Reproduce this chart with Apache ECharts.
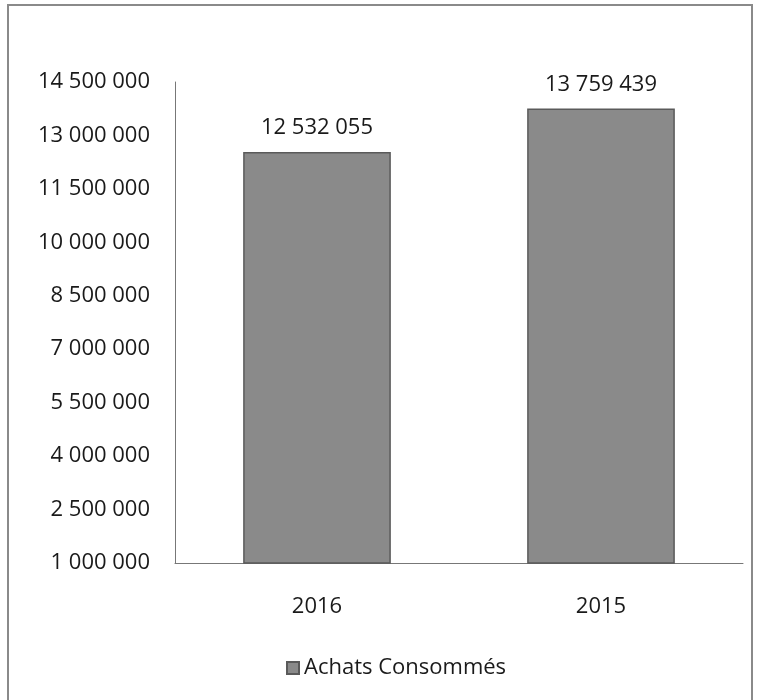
<!DOCTYPE html>
<html><head><meta charset="utf-8">
<script src="https://cdn.jsdelivr.net/npm/echarts@6/dist/echarts.min.js"></script>
<style>html,body{margin:0;padding:0;background:#fff}#c{width:759px;height:700px}</style>
</head><body><div id="c"></div>
<script>
const categories = ['2016', '2015'];
const achatsConsommes = [12532055, 13759439];
const yTicks = [1000000, 2500000, 4000000, 5500000, 7000000, 8500000, 10000000, 11500000, 13000000, 14500000];
const seriesName = 'Achats Consommés';

const fmt = v => String(Math.round(v)).replace(/\B(?=(\d{3})+(?!\d))/g, ' ');
const FONT = 'Open Sans';
const TXT = '#1a1a1a';

const chart = echarts.init(document.getElementById('c'));
chart.setOption({
  backgroundColor: '#fff',
  animation: false,
  textStyle: { fontFamily: FONT },
  graphic: [{
    type: 'rect', shape: { x: 8, y: 5, width: 744, height: 710 },
    style: { fill: 'none', stroke: '#8a8a8a', lineWidth: 2 }, silent: true
  }],
  grid: { left: 175, right: 16, top: 82, bottom: 137, containLabel: false },
  legend: {
    top: 652, left: 281,
    icon: 'rect', itemWidth: 12, itemHeight: 12, itemGap: 8,
    textStyle: { fontFamily: FONT, fontSize: 22, color: TXT },
    data: [seriesName]
  },
  xAxis: {
    type: 'category', data: categories,
    axisLine: { show: true, lineStyle: { color: '#777', width: 1 } },
    axisTick: { show: false },
    axisLabel: { fontFamily: FONT, fontSize: 22, color: TXT, margin: 33 }
  },
  yAxis: {
    type: 'value', min: yTicks[0], max: yTicks[yTicks.length - 1],
    axisLine: { show: true, lineStyle: { color: '#777', width: 1 } },
    axisTick: { show: false },
    splitLine: { show: false },
    axisLabel: {
      customValues: yTicks,
      fontFamily: FONT, fontSize: 22, color: TXT, margin: 25,
      formatter: v => fmt(v)
    }
  },
  series: [{
    name: seriesName, type: 'bar', data: achatsConsommes, barWidth: '52%',
    itemStyle: { color: '#8a8a8a', borderColor: '#5a5a5a', borderWidth: 1.5 },
    label: {
      show: true, position: 'top', distance: 13,
      fontFamily: FONT, fontSize: 22, color: TXT,
      formatter: p => fmt(p.value)
    }
  }]
});
</script></body></html>
